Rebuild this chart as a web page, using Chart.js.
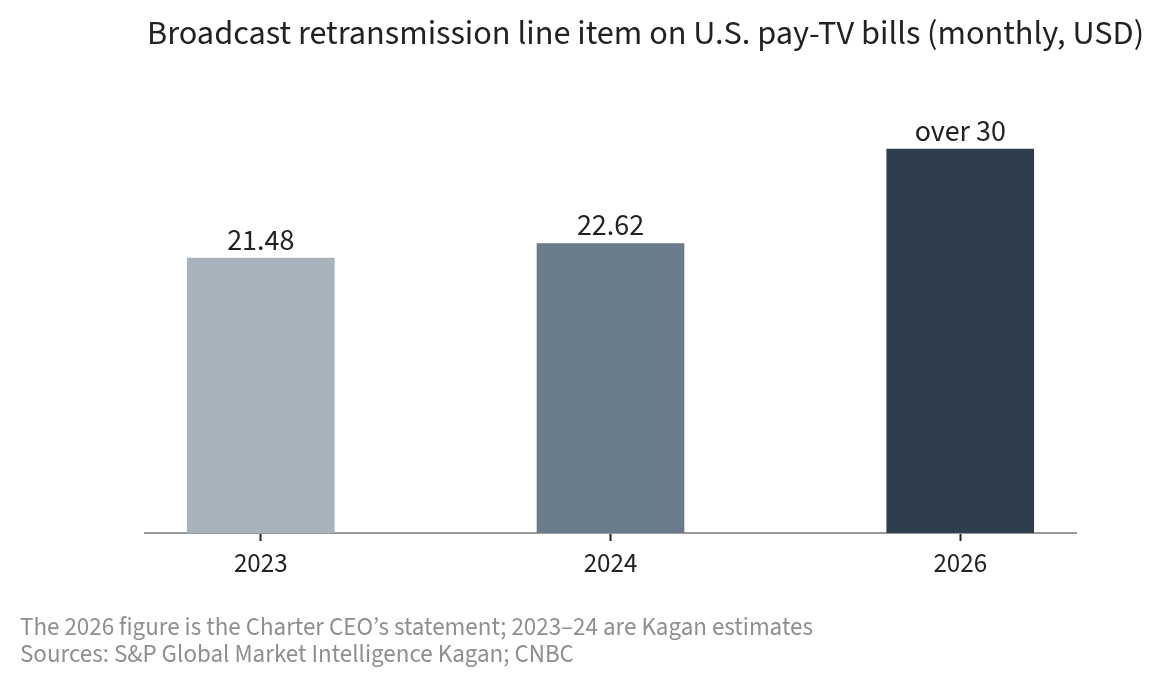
<!DOCTYPE html>
<html>
<head>
<meta charset="utf-8">
<script src="https://cdn.jsdelivr.net/npm/chart.js@4.4.1/dist/chart.umd.min.js"></script>
<style>
html,body{margin:0;padding:0;background:#fff;}
#wrap{width:1166px;height:685px;position:relative;}
</style>
</head>
<body>
<div id="wrap"><canvas id="c" width="1166" height="685"></canvas></div>
<script>
const categories = ["2023", "2024", "2026"];
const values = [21.48, 22.62, 30];
const valueLabels = ["21.48", "22.62", "over 30"];
const barColors = ["#a8b2bc", "#6a7b8b", "#2e3e4f"];
const titleText = "Broadcast retransmission line item on U.S. pay-TV bills (monthly, USD)";
const noteLines = [
  "The 2026 figure is the Charter CEO\u2019s statement; 2023\u201324 are Kagan estimates",
  "Sources: S&P Global Market Intelligence Kagan; CNBC"
];
const FONT = "'Source Sans 3','Source Sans Pro',Lato,sans-serif";

const textPlugin = {
  id: 'texts',
  afterDraw(chart) {
    const ctx = chart.ctx;
    ctx.save();
    ctx.fillStyle = '#222';
    ctx.font = '34.3px ' + FONT;
    ctx.textAlign = 'left';
    ctx.textBaseline = 'alphabetic';
    ctx.fillText(titleText, 147, 44);
    ctx.fillStyle = '#8f8f8f';
    ctx.font = '25px ' + FONT;
    ctx.fillText(noteLines[0], 20, 635);
    ctx.fillText(noteLines[1], 20, 662);
    const meta = chart.getDatasetMeta(0);
    ctx.fillStyle = '#222';
    ctx.font = '30px ' + FONT;
    ctx.textAlign = 'center';
    meta.data.forEach((bar, i) => {
      ctx.fillText(valueLabels[i], bar.x, bar.y - 8);
    });
    ctx.restore();
  }
};

new Chart(document.getElementById('c'), {
  type: 'bar',
  data: {
    datasets: [{
      data: categories.map((c, i) => ({x: i, y: values[i]})),
      backgroundColor: barColors,
      barThickness: 147,
      borderWidth: 0
    }]
  },
  options: {
    responsive: false,
    animation: false,
    devicePixelRatio: 1,
    layout: {padding: {left: 145, right: 90, top: 85, bottom: 102}},
    plugins: {legend: {display: false}, tooltip: {enabled: false}, title: {display: false}},
    scales: {
      x: {
        type: 'linear',
        offset: false,
        min: -0.331,
        max: 2.331,
        afterBuildTicks(scale) { scale.ticks = categories.map((c, i) => ({value: i})); },
        afterFit(scale) { scale.height = 50; },
        ticks: {
          callback: (v) => categories[v],
          color: '#222',
          font: {family: FONT, size: 27},
          padding: 9,
          maxRotation: 0,
          autoSkip: false
        },
        grid: {offset: false, drawOnChartArea: false, drawTicks: true, tickLength: 8, tickColor: '#222', tickWidth: 2},
        border: {display: true, color: '#999', width: 2}
      },
      y: {
        display: false,
        min: 0,
        max: 35
      }
    }
  },
  plugins: [textPlugin]
});
</script>
</body>
</html>
